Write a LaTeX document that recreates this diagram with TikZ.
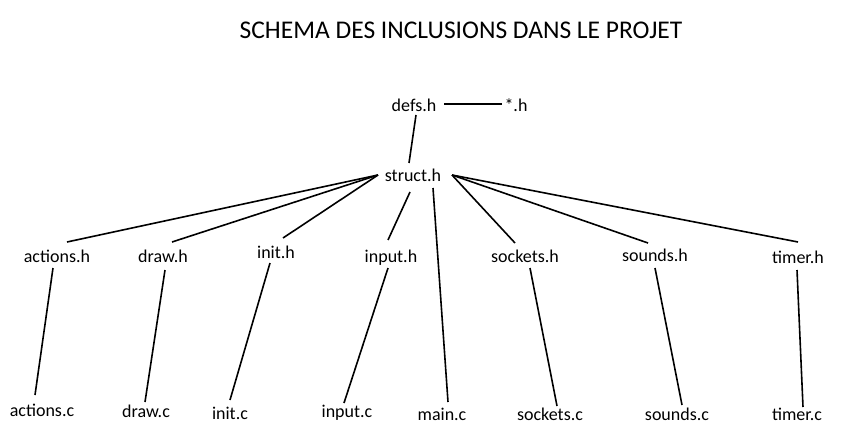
\documentclass[tikz,border=0pt]{standalone}
\usepackage{fontspec}
\setmainfont{Carlito}
\begin{document}
\begin{tikzpicture}[
                x=1pt, y=-1pt,
                file/.style={font=\fontsize{18}{20}\selectfont, inner sep=0pt, anchor=base},
                titre/.style={font=\fontsize{25.5}{28}\selectfont, inner sep=0pt, anchor=base},
                link/.style={line width=1.6pt}
            ]
            \useasboundingbox (0, 0) rectangle (858, 425);
            \node[titre] (titre) at (461, 39) {SCHEMA DES INCLUSIONS DANS LE PROJET};
            \node[file] (defs) at (414, 111) {defs.h};
            \node[file] (autres) at (516, 111.5) {*.h};
            \node[file] (struct) at (413, 181) {struct.h};
            \node[file] (actionsh) at (57, 262) {actions.h};
            \node[file] (drawh) at (163, 262) {draw.h};
            \node[file] (inith) at (276, 258) {init.h};
            \node[file] (inputh) at (391, 262) {input.h};
            \node[file] (socketsh) at (525, 262) {sockets.h};
            \node[file] (soundsh) at (655, 261) {sounds.h};
            \node[file] (timerh) at (798, 263) {timer.h};
            \node[file] (actionsc) at (42, 416) {actions.c};
            \node[file] (drawc) at (146, 417) {draw.c};
            \node[file] (initc) at (230, 419) {init.c};
            \node[file] (inputc) at (347, 417) {input.c};
            \node[file] (mainc) at (442, 420) {main.c};
            \node[file] (socketsc) at (550, 420) {sockets.c};
            \node[file] (soundsc) at (677, 420) {sounds.c};
            \node[file] (timerc) at (797, 420) {timer.c};
            \coordinate (sw) at ([shift={(-35, -6)}]struct.base);
            \coordinate (se) at ([shift={(39, -6)}]struct.base);
            \draw[link] ([shift={(30, -7)}]defs.base) -- ([shift={(-14, -7.5)}]autres.base);
            \draw[link] ([shift={(2, 4)}]defs.base) -- ([shift={(-4, -18)}]struct.base);
            \draw[link] (sw) -- ([shift={(10, -20)}]actionsh.base);
            \draw[link] (sw) -- ([shift={(9, -20)}]drawh.base);
            \draw[link] (sw) -- ([shift={(7, -20)}]inith.base);
            \draw[link] ([shift={(-3, 11)}]struct.base) -- ([shift={(-3, -22)}]inputh.base);
            \draw[link] ([shift={(20, 7)}]struct.base) -- ([shift={(6, -18)}]mainc.base);
            \draw[link] (se) -- ([shift={(-10, -19)}]socketsh.base);
            \draw[link] (se) -- ([shift={(-7, -18)}]soundsh.base);
            \draw[link] (se) -- ([shift={(0, -21)}]timerh.base);
            \draw[link] ([shift={(-4, 6)}]actionsh.base) -- ([shift={(-7, -21)}]actionsc.base);
            \draw[link] ([shift={(2, 8)}]drawh.base) -- ([shift={(-1, -15)}]drawc.base);
            \draw[link] ([shift={(-6, 5)}]inith.base) -- ([shift={(0, -19)}]initc.base);
            \draw[link] ([shift={(-3, 6)}]inputh.base) -- ([shift={(-3, -14)}]inputc.base);
            \draw[link] ([shift={(5, 6)}]socketsh.base) -- ([shift={(7, -14)}]socketsc.base);
            \draw[link] ([shift={(0, 7)}]soundsh.base) -- ([shift={(5, -15)}]soundsc.base);
            \draw[link] ([shift={(-1, 7)}]timerh.base) -- ([shift={(6, -13)}]timerc.base);
        \end{tikzpicture}
\end{document}
